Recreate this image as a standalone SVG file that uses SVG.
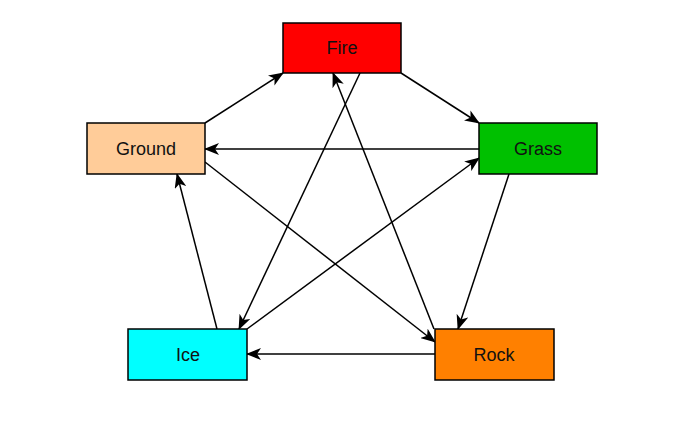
<svg xmlns="http://www.w3.org/2000/svg" width="679" height="422" viewBox="0 0 679 422">
<style>
.box{stroke:#000;stroke-width:1.5}
.lbl{font-family:"Liberation Sans",Arial,sans-serif;font-size:18px;fill:#111;text-anchor:middle;dominant-baseline:central}
.edge{stroke:#000;stroke-width:1.5;fill:none;marker-end:url(#ah)}
</style>
<defs>
<marker id="ah" viewBox="0 0 15 12" refX="14" refY="6" markerWidth="15" markerHeight="12" markerUnits="userSpaceOnUse" orient="auto">
<path d="M0,0 L15,6 L0,12 L4,6 Z" fill="#000"/>
</marker>
</defs>
<rect width="679" height="422" fill="#fff"/>
<g id="connectors">
<line class="edge" x1="205" y1="123" x2="283" y2="73"/>
<line class="edge" x1="401" y1="73" x2="479" y2="123"/>
<line class="edge" x1="479" y1="149" x2="205" y2="149"/>
<line class="edge" x1="509" y1="174" x2="458" y2="329"/>
<line class="edge" x1="435" y1="354" x2="247" y2="354"/>
<line class="edge" x1="217" y1="329" x2="177" y2="174"/>
<line class="edge" x1="360" y1="73" x2="239" y2="329"/>
<line class="edge" x1="247" y1="329" x2="479" y2="158"/>
<line class="edge" x1="434" y1="329" x2="333" y2="73"/>
<line class="edge" x1="205" y1="162" x2="435" y2="342"/>
</g>
<g id="fire"><rect class="box" x="283" y="23" width="118" height="50" fill="#ff0000"/><text class="lbl" x="342" y="48">Fire</text></g>
<g id="grass"><rect class="box" x="479" y="123" width="118" height="51" fill="#00c000"/><text class="lbl" x="538" y="149">Grass</text></g>
<g id="ground"><rect class="box" x="87" y="123" width="118" height="51" fill="#ffcc99"/><text class="lbl" x="146" y="149">Ground</text></g>
<g id="ice"><rect class="box" x="128" y="329" width="119" height="51" fill="#00ffff"/><text class="lbl" x="188" y="355">Ice</text></g>
<g id="rock"><rect class="box" x="435" y="329" width="119" height="51" fill="#ff8000"/><text class="lbl" x="494" y="355">Rock</text></g>
</svg>
